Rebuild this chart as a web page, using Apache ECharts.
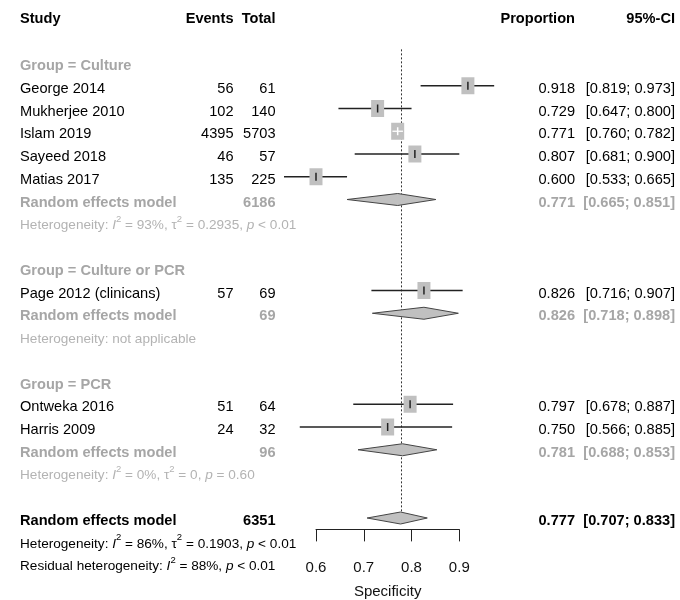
<!DOCTYPE html>
<html>
<head>
<meta charset="utf-8">
<script src="https://cdn.jsdelivr.net/npm/echarts@6/dist/echarts.min.js"></script>
<style>html,body{margin:0;padding:0;background:#fff}#c{width:680px;height:600px}</style>
</head>
<body>
<div id="c"></div>
<script>
// ---- data ----
const headers = ['Study', 'Events', 'Total', 'Proportion', '95%-CI'];
const studyNames = ['George 2014', 'Mukherjee 2010', 'Islam 2019', 'Sayeed 2018', 'Matias 2017', 'Page 2012 (clinicans)', 'Ontweka 2016', 'Harris 2009'];
const studyGroup = [0, 0, 0, 0, 0, 1, 2, 2];
const events = [56, 102, 4395, 46, 135, 57, 51, 24];
const totals = [61, 140, 5703, 57, 225, 69, 64, 32];
const proportions = [0.918, 0.729, 0.771, 0.807, 0.600, 0.826, 0.797, 0.750];
const ciLower = [0.819, 0.647, 0.760, 0.681, 0.533, 0.716, 0.678, 0.566];
const ciUpper = [0.973, 0.800, 0.782, 0.900, 0.665, 0.907, 0.887, 0.885];
const groupNames = ['Group = Culture', 'Group = Culture or PCR', 'Group = PCR'];
const groupTotals = [6186, 69, 96];
const groupEst = [0.771, 0.826, 0.781];
const groupLower = [0.665, 0.718, 0.688];
const groupUpper = [0.851, 0.898, 0.853];
const groupHetI2 = ['93%', null, '0%'];
const groupHetTau2 = ['0.2935', null, '0'];
const groupHetP = ['< 0.01', null, '= 0.60'];
const overallTotal = 6351;
const overallEst = 0.777;
const overallLower = 0.707;
const overallUpper = 0.833;
const overallHet = ['86%', '0.1903', '< 0.01'];
const residualHet = ['88%', '< 0.01'];
const xTicks = [0.6, 0.7, 0.8, 0.9];
const axisTitle = 'Specificity';

// ---- build row table ----
const rows = [];
let r = 0;
for (let g = 0; g < groupNames.length; g++) {
  rows.push({row: r++, kind: 'group', label: groupNames[g]});
  for (let i = 0; i < studyNames.length; i++) {
    if (studyGroup[i] !== g) continue;
    rows.push({row: r++, kind: 'study', label: studyNames[i], ev: events[i], tot: totals[i],
      est: proportions[i], lo: ciLower[i], hi: ciUpper[i]});
  }
  rows.push({row: r++, kind: 'sub', label: 'Random effects model', tot: groupTotals[g],
    est: groupEst[g], lo: groupLower[g], hi: groupUpper[g]});
  let het;
  if (groupHetI2[g] === null) het = 'Heterogeneity: not applicable';
  else het = 'Heterogeneity: {i|I}{s|2} = ' + groupHetI2[g] + ', {n|τ}{s|2} = ' + groupHetTau2[g] + ', {i|p} ' + groupHetP[g];
  rows.push({row: r++, kind: 'subhet', label: het});
  r++;
}
rows.push({row: r++, kind: 'overall', label: 'Random effects model', tot: overallTotal,
  est: overallEst, lo: overallLower, hi: overallUpper});
rows.push({row: r++, kind: 'het', label: 'Heterogeneity: {i|I}{s|2} = ' + overallHet[0] + ', {n|τ}{s|2} = ' + overallHet[1] + ', {i|p} ' + overallHet[2]});
rows.push({row: r++, kind: 'het', label: 'Residual heterogeneity: {i|I}{s|2} = ' + residualHet[0] + ', {i|p} ' + residualHet[1]});

const FONT = "'Liberation Sans', Arial, Helvetica, sans-serif";
const FS = 14.6;
const HFS = 13.6;
const GRAY = '#a6a6a6';
const HGRAY = '#b3b3b3';
const X_STUDY = 20, X_EV = 233.5, X_TOT = 275.5, X_PROP = 575, X_CI = 675;

function txt(text, x, y, opts) {
  return {type: 'text', style: Object.assign({text: text, x: x, y: y, fontFamily: FONT, fontSize: FS,
    fill: '#000', align: 'left', verticalAlign: 'middle'}, opts || {})};
}
function ciText(lo, hi) { return '[' + lo.toFixed(3) + '; ' + hi.toFixed(3) + ']'; }

const markRows = rows.filter(d => d.est !== undefined);

const option = {
  animation: false,
  grid: {left: 316, width: 143.3, top: 6.125, height: 523.25, containLabel: false, outerBoundsMode: 'none'},
  xAxis: {
    type: 'value', position: 'bottom', min: xTicks[0], max: xTicks[xTicks.length - 1], interval: 0.1,
    axisLine: {show: true, onZero: false, lineStyle: {color: '#222', width: 1}},
    axisTick: {show: true, length: 12, inside: false, lineStyle: {color: '#222', width: 1}},
    axisLabel: {fontFamily: FONT, fontSize: 15, color: '#111', margin: 31,
      formatter: v => { const t = xTicks.find(k => Math.abs(k - v) < 1e-6); return t === undefined ? '' : String(t); }},
    splitLine: {show: false},
    name: axisTitle, nameLocation: 'middle', nameGap: 55,
    nameTextStyle: {fontFamily: FONT, fontSize: 15, color: '#111'}
  },
  yAxis: {type: 'value', min: -2.5, max: 20.5, inverse: true, show: false},
  series: [
    {
      type: 'custom', clip: false, z: 1,
      data: [[overallEst]],
      renderItem: function (params, api) {
        const p1 = api.coord([api.value(0), -0.6]);
        const p2 = api.coord([api.value(0), 20]);
        return {type: 'line', shape: {x1: Math.round(p1[0]) + 0.5, y1: p1[1], x2: Math.round(p1[0]) + 0.5, y2: p2[1]},
          style: {stroke: '#333', lineWidth: 1, lineDash: [2, 2]}};
      }
    },
    {
      type: 'custom', clip: false, z: 2,
      data: markRows.map(d => [d.row, d.est, d.lo, d.hi]),
      renderItem: function (params, api) {
        const d = markRows[params.dataIndex];
        const row = api.value(0), est = api.value(1), lo = api.value(2), hi = api.value(3);
        const c = api.coord([est, row]);
        const pl = api.coord([lo, row]);
        const ph = api.coord([hi, row]);
        const y = c[1];
        const children = [];
        if (d.kind === 'study') {
          const sw = 13, sh = 17;
          const inside = pl[0] >= c[0] - sw / 2 && ph[0] <= c[0] + sw / 2;
          if (!inside) {
            children.push({type: 'line', shape: {x1: pl[0], y1: y, x2: ph[0], y2: y}, style: {stroke: '#222', lineWidth: 1.3}});
          }
          children.push({type: 'rect', shape: {x: c[0] - sw / 2, y: y - sh / 2, width: sw, height: sh}, style: {fill: '#c0c0c0'}});
          const col = inside ? '#ffffff' : '#222';
          if (inside) {
            children.push({type: 'line', shape: {x1: pl[0], y1: y, x2: ph[0], y2: y}, style: {stroke: col, lineWidth: 1.3}});
          }
          children.push({type: 'line', shape: {x1: c[0], y1: y - 4, x2: c[0], y2: y + 4}, style: {stroke: col, lineWidth: 1.5}});
        } else {
          const h = 6;
          children.push({type: 'polygon', shape: {points: [[pl[0], y], [c[0], y - h], [ph[0], y], [c[0], y + h]]},
            style: {fill: '#c0c0c0', stroke: '#444', lineWidth: 1}});
        }
        return {type: 'group', children: children};
      }
    },
    {
      type: 'custom', clip: false, z: 3, silent: true,
      data: [[-2]].concat(rows.map(d => [d.row])),
      renderItem: function (params, api) {
        const row = api.value(0);
        const y = api.coord([0.6, row])[1];
        const ch = [];
        if (params.dataIndex === 0) {
          const yh = y + 1;
          const b = {fontWeight: 'bold'};
          ch.push(txt(headers[0], X_STUDY, yh, b));
          ch.push(txt(headers[1], X_EV, yh, Object.assign({align: 'right'}, b)));
          ch.push(txt(headers[2], X_TOT, yh, Object.assign({align: 'right'}, b)));
          ch.push(txt(headers[3], X_PROP, yh, Object.assign({align: 'right'}, b)));
          ch.push(txt(headers[4], X_CI, yh, Object.assign({align: 'right'}, b)));
          return {type: 'group', children: ch};
        }
        const d = rows[params.dataIndex - 1];
        const ty = y + 3;
        if (d.kind === 'group') {
          ch.push(txt(d.label, X_STUDY, ty, {fontWeight: 'bold', fill: GRAY}));
        } else if (d.kind === 'study') {
          ch.push(txt(d.label, X_STUDY, ty));
          ch.push(txt(String(d.ev), X_EV, ty, {align: 'right'}));
          ch.push(txt(String(d.tot), X_TOT, ty, {align: 'right'}));
          ch.push(txt(d.est.toFixed(3), X_PROP, ty, {align: 'right'}));
          ch.push(txt(ciText(d.lo, d.hi), X_CI, ty, {align: 'right'}));
        } else if (d.kind === 'sub' || d.kind === 'overall') {
          const o = {fontWeight: 'bold', fill: d.kind === 'sub' ? GRAY : '#000'};
          ch.push(txt(d.label, X_STUDY, ty, o));
          ch.push(txt(String(d.tot), X_TOT, ty, Object.assign({align: 'right'}, o)));
          ch.push(txt(d.est.toFixed(3), X_PROP, ty, Object.assign({align: 'right'}, o)));
          ch.push(txt(ciText(d.lo, d.hi), X_CI, ty, Object.assign({align: 'right'}, o)));
        } else {
          const col = d.kind === 'subhet' ? HGRAY : '#000';
          ch.push(txt(d.label, X_STUDY, ty, {
            fill: col, fontSize: HFS, lineHeight: 22,
            rich: {
              i: {fontStyle: 'italic', fontFamily: FONT, fontSize: HFS, fill: col, lineHeight: 22},
              n: {fontFamily: FONT, fontSize: HFS, fill: col, lineHeight: 22},
              s: {fontFamily: FONT, fontSize: 9.5, fill: col, lineHeight: 10, verticalAlign: 'top'}
            }
          }));
        }
        return {type: 'group', children: ch};
      }
    }
  ]
};

const chart = echarts.init(document.getElementById('c'), null, {renderer: 'canvas'});
chart.setOption(option);
</script>
</body>
</html>
